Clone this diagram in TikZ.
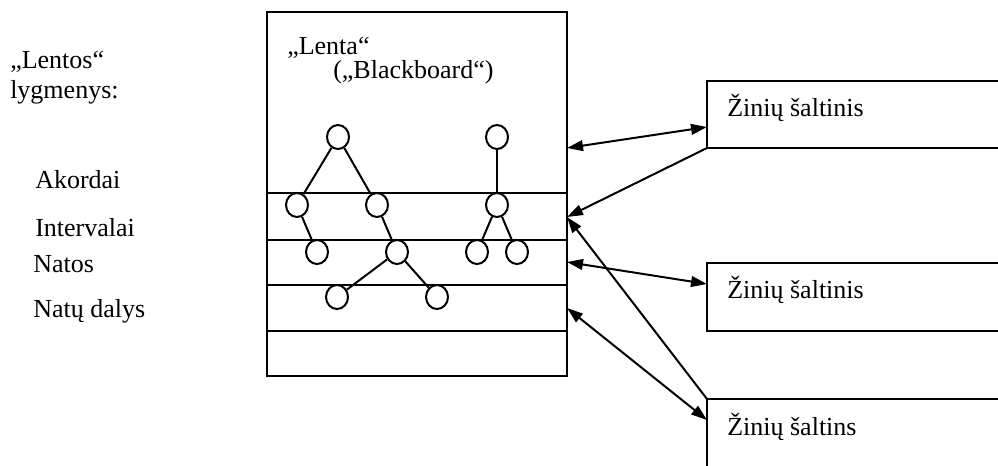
\documentclass[tikz,border=0pt]{standalone}
\usepackage{fontspec}
\setmainfont{Liberation Serif}
\usetikzlibrary{shapes.geometric,arrows.meta,calc}
\begin{document}
\begin{tikzpicture}[x=0.75pt,y=-0.75pt,
  box/.style={draw,rectangle,line width=1.5pt,inner sep=0,outer sep=0,anchor=north west},
  nd/.style={draw,ellipse,line width=1.5pt,minimum width=16.5pt,minimum height=18pt,inner sep=0},
  txt/.style={anchor=base west,inner sep=0,font=\fontsize{19.5}{22}\selectfont},
  arr/.style={line width=1.5pt,-{Triangle[length=12pt,width=8pt]}},
  darr/.style={line width=1.5pt,{Triangle[length=12pt,width=8pt]}-{Triangle[length=12pt,width=8pt]}},
  divider/.style={line width=1.8pt},
  tedge/.style={line width=1.5pt}]
\clip (0,0) rectangle (998,465);
% main board
\node[box,minimum width=225pt,minimum height=273pt] (main) at (267,12) {};
\foreach \yy in {181,228,273,319}
  \draw[divider] ($(main.north west)+(0,\yy)$) -- ($(main.north east)+(0,\yy)$);
\node[txt] (t1) at (287,54) {„Lenta“};
\node[txt] (t2) at (333,78) {(„Blackboard“)};
% knowledge sources
\node[box,minimum width=258pt,minimum height=50.25pt] (src1) at (707,81) {};
\node[box,minimum width=258pt,minimum height=51pt] (src2) at (707,263) {};
\node[box,minimum width=258pt,minimum height=90pt] (src3) at (707,399) {};
\node[txt] (s1) at (727,116) {Žinių šaltinis};
\node[txt] (s2) at (727,298) {Žinių šaltinis};
\node[txt] (s3) at (727,435) {Žinių šaltins};
% left labels
\node[txt] (l0) at (10,68) {„Lentos“};
\node[txt] (l1) at (10,98) {lygmenys:};
\node[txt] (l2) at (35,188) {Akordai};
\node[txt] (l3) at (35,236) {Intervalai};
\node[txt] (l4) at (33,272) {Natos};
\node[txt] (l5) at (33,317) {Natų dalys};
% trees
\node[nd] (a1) at (338,137) {};
\node[nd] (a2) at (497,137) {};
\node[nd] (b1) at (297,205) {};
\node[nd] (b2) at (377,205) {};
\node[nd] (b3) at (497,205) {};
\node[nd] (c1) at (317,252) {};
\node[nd] (c2) at (397,252) {};
\node[nd] (c3) at (477,252) {};
\node[nd] (c4) at (517,252) {};
\node[nd] (d1) at (337,297) {};
\node[nd] (d2) at (437,297) {};
\draw[tedge] (a1) -- (b1);
\draw[tedge] (a1) -- (b2);
\draw[tedge] (a2) -- (b3);
\draw[tedge] (b1) -- (c1);
\draw[tedge] (b2) -- (c2);
\draw[tedge] (b3) -- (c3);
\draw[tedge] (b3) -- (c4);
\draw[tedge] (c2) -- (d1);
\draw[tedge] (c2) -- (d2);
% connector end points
\coordinate (m1) at ($(main.north east)+(0,136)$);
\coordinate (m2) at ($(main.north east)+(0,205)$);
\coordinate (m3) at ($(main.north east)+(0,250)$);
\coordinate (m4) at ($(main.north east)+(0,296)$);
\coordinate (p1) at ($(src1.north west)+(0,46)$);
\coordinate (p2) at ($(src2.north west)+(0,21)$);
\coordinate (p3) at ($(src3.north west)+(0,21)$);
\draw[darr] (m1) -- (p1);
\draw[arr] (src1.south west) -- (m2);
\draw[arr] (src3.north west) -- (m2);
\draw[darr] (m3) -- (p2);
\draw[darr] (m4) -- (p3);
\end{tikzpicture}
\end{document}
